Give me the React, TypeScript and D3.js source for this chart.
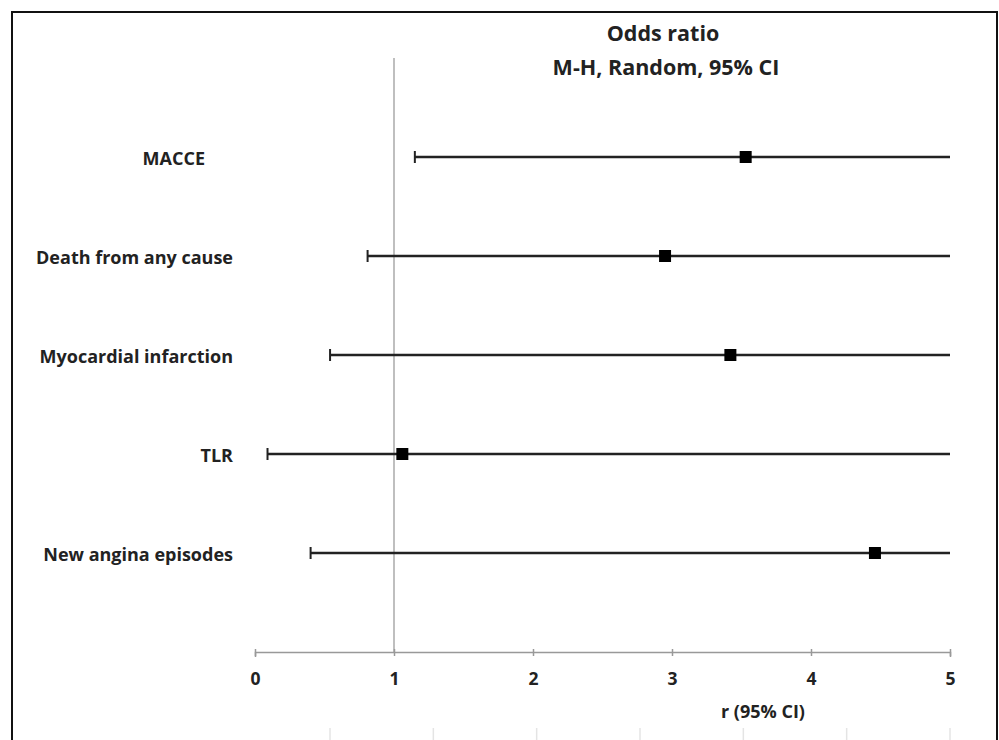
import React, { useEffect, useRef } from "react";
import * as d3 from "d3";

// outcomes, top to bottom
const outcomes = [
  "MACCE",
  "Death from any cause",
  "Myocardial infarction",
  "TLR",
  "New angina episodes",
];
const oddsRatio = [3.53, 2.95, 3.42, 1.06, 4.46];
const ciLower = [1.15, 0.81, 0.54, 0.09, 0.4];
const ciUpper = [5, 5, 5, 5, 5];
const xTicks = [0, 1, 2, 3, 4, 5];

const W = 999;
const H = 740;
const margin = { top: 58, right: 48, bottom: 88, left: 255 };
const font = "'Open Sans', Lato, sans-serif";

const App = () => {
  const svgRef = useRef<SVGSVGElement>(null);

  useEffect(() => {
    const svg = d3.select(svgRef.current);
    svg.selectAll("*").remove();

    const x = d3
      .scaleLinear()
      .domain([0, 5])
      .range([margin.left, W - margin.right - 1]);

    // 5 rows + 1 empty slot below
    const y = d3
      .scaleLinear()
      .domain([0, outcomes.length + 1])
      .range([H - margin.bottom, margin.top]);
    const rowY = (i: number) => y(outcomes.length - i);

    // frame
    svg
      .append("rect")
      .attr("x", 12)
      .attr("y", 12)
      .attr("width", 985)
      .attr("height", H + 20)
      .attr("fill", "white")
      .attr("stroke", "#111")
      .attr("stroke-width", 2);

    // faint marks at the bottom edge
    const faint = d3.scaleLinear().domain([0, 6]).range([330, 950]);
    svg
      .selectAll(".faint")
      .data(d3.range(7))
      .join("line")
      .attr("x1", (d) => faint(d))
      .attr("x2", (d) => faint(d))
      .attr("y1", 728)
      .attr("y2", H)
      .attr("stroke", "#e4e4e4")
      .attr("stroke-width", 1.5);

    // title
    const title = ["Odds ratio", "M-H, Random, 95% CI"];
    svg
      .selectAll(".title")
      .data(title)
      .join("text")
      .attr("x", (d, i) => (i === 0 ? 663 : 666))
      .attr("y", (d, i) => 33 + i * 34)
      .attr("dy", "0.35em")
      .attr("text-anchor", "middle")
      .attr("font-family", font)
      .attr("font-weight", "bold")
      .attr("font-size", 21.5)
      .attr("fill", "#222")
      .text((d) => d);

    // reference line at OR = 1
    svg
      .append("line")
      .attr("x1", x(1))
      .attr("x2", x(1))
      .attr("y1", margin.top)
      .attr("y2", H - margin.bottom)
      .attr("stroke", "#aaa")
      .attr("stroke-width", 1.5);

    // x axis
    const axis = svg
      .append("g")
      .attr("transform", `translate(0,${H - margin.bottom})`)
      .call(d3.axisBottom(x).tickValues(xTicks).tickSize(5).tickFormat(d3.format("d")));
    axis.select(".domain").attr("stroke", "#999").attr("stroke-width", 1.5);
    axis
      .selectAll(".tick line")
      .attr("y1", -3)
      .attr("y2", 4)
      .attr("stroke", "#999")
      .attr("stroke-width", 1.5);
    axis
      .selectAll(".tick text")
      .attr("y", 27)
      .attr("dy", "0.35em")
      .attr("font-family", font)
      .attr("font-weight", "bold")
      .attr("font-size", 17.5)
      .attr("fill", "#222");

    svg
      .append("text")
      .attr("x", 763)
      .attr("y", 712)
      .attr("dy", "0.35em")
      .attr("text-anchor", "middle")
      .attr("font-family", font)
      .attr("font-weight", "bold")
      .attr("font-size", 18)
      .attr("fill", "#222")
      .text("r (95% CI)");

    // row labels
    svg
      .selectAll(".label")
      .data(outcomes)
      .join("text")
      .attr("class", "label")
      .attr("x", (d, i) => (i === 0 ? 205 : 233))
      .attr("y", (d, i) => rowY(i) + 2)
      .attr("dy", "0.35em")
      .attr("text-anchor", "end")
      .attr("font-family", font)
      .attr("font-weight", "bold")
      .attr("font-size", 18)
      .attr("fill", "#222")
      .text((d) => d);

    // CI lines
    const rows = outcomes.map((name, i) => ({
      name,
      i,
      or: oddsRatio[i],
      lo: ciLower[i],
      hi: Math.min(ciUpper[i], 5),
    }));

    svg
      .selectAll(".ci")
      .data(rows)
      .join("line")
      .attr("x1", (d) => x(d.lo))
      .attr("x2", (d) => x(d.hi))
      .attr("y1", (d) => rowY(d.i))
      .attr("y2", (d) => rowY(d.i))
      .attr("stroke", "#222")
      .attr("stroke-width", 2.5);

    svg
      .selectAll(".cap")
      .data(rows)
      .join("line")
      .attr("x1", (d) => x(d.lo))
      .attr("x2", (d) => x(d.lo))
      .attr("y1", (d) => rowY(d.i) - 6)
      .attr("y2", (d) => rowY(d.i) + 6)
      .attr("stroke", "#222")
      .attr("stroke-width", 2);

    const sq = 12;
    svg
      .selectAll(".pt")
      .data(rows)
      .join("rect")
      .attr("x", (d) => x(d.or) - sq / 2)
      .attr("y", (d) => rowY(d.i) - sq / 2)
      .attr("width", sq)
      .attr("height", sq)
      .attr("fill", "#000");
  }, []);

  return (
    <svg
      ref={svgRef}
      width={W}
      height={H}
      style={{ position: "absolute", left: 0, top: 0, background: "white" }}
    />
  );
};

export default App;
